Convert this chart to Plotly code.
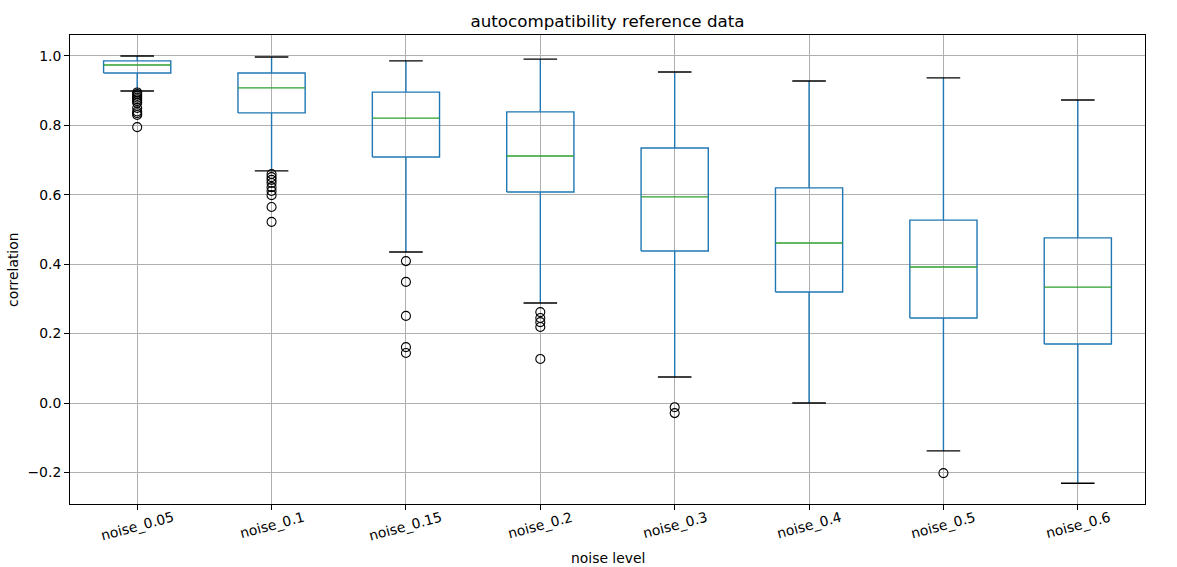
import plotly.graph_objects as go

categories = ["noise_0.05", "noise_0.1", "noise_0.15", "noise_0.2",
              "noise_0.3", "noise_0.4", "noise_0.5", "noise_0.6"]
lower_whisker = [0.899, 0.669, 0.435, 0.288, 0.075, 0.000, -0.138, -0.231]
q1 = [0.951, 0.836, 0.709, 0.608, 0.438, 0.320, 0.245, 0.170]
median = [0.974, 0.908, 0.821, 0.712, 0.594, 0.461, 0.392, 0.334]
q3 = [0.986, 0.951, 0.896, 0.839, 0.735, 0.620, 0.527, 0.476]
upper_whisker = [1.000, 0.997, 0.986, 0.991, 0.954, 0.928, 0.937, 0.873]
outliers = [
    [0.895, 0.89, 0.885, 0.88, 0.875, 0.87, 0.865, 0.85, 0.84, 0.835, 0.83, 0.795],
    [0.66, 0.651, 0.643, 0.634, 0.622, 0.611, 0.599, 0.565, 0.522],
    [0.409, 0.349, 0.251, 0.161, 0.144],
    [0.262, 0.245, 0.233, 0.219, 0.127],
    [-0.012, -0.029],
    [],
    [-0.202],
    [],
]
y_ticks = [-0.2, 0.0, 0.2, 0.4, 0.6, 0.8, 1.0]
y_ticklabels = ["\u22120.2", "0.0", "0.2", "0.4", "0.6", "0.8", "1.0"]

W, H = 1177, 567
L, R, T, B = 70, 32, 35, 63
plot_h = H - T - B

pos = list(range(1, len(categories) + 1))
bw = 0.25  # half box width
cw = 0.125  # half cap width

box_x, box_y = [], []
med_x, med_y = [], []
wh_x, wh_y = [], []
cap_x, cap_y = [], []
out_x, out_y = [], []
for i, p in enumerate(pos):
    box_x += [p - bw, p + bw, p + bw, p - bw, p - bw, None]
    box_y += [q1[i], q1[i], q3[i], q3[i], q1[i], None]
    med_x += [p - bw, p + bw, None]
    med_y += [median[i], median[i], None]
    wh_x += [p, p, None, p, p, None]
    wh_y += [q1[i], lower_whisker[i], None, q3[i], upper_whisker[i], None]
    cap_x += [p - cw, p + cw, None, p - cw, p + cw, None]
    cap_y += [lower_whisker[i], lower_whisker[i], None, upper_whisker[i], upper_whisker[i], None]
    for v in outliers[i]:
        out_x.append(p)
        out_y.append(v)

fig = go.Figure()
fig.add_trace(go.Scatter(x=wh_x, y=wh_y, mode="lines",
                         line=dict(color="#1f77b4", width=1.4), hoverinfo="skip"))
fig.add_trace(go.Scatter(x=box_x, y=box_y, mode="lines",
                         line=dict(color="#1f77b4", width=1.4), hoverinfo="skip"))
fig.add_trace(go.Scatter(x=med_x, y=med_y, mode="lines",
                         line=dict(color="#2ca02c", width=1.4), hoverinfo="skip"))
fig.add_trace(go.Scatter(x=cap_x, y=cap_y, mode="lines",
                         line=dict(color="black", width=1.4), hoverinfo="skip"))
fig.add_trace(go.Scatter(x=out_x, y=out_y, mode="markers",
                         marker=dict(symbol="circle-open", size=9, color="black",
                                     line=dict(width=1.1, color="black"))))

axis_common = dict(showline=True, linecolor="black", linewidth=1, mirror=True,
                   showgrid=True, gridcolor="#b0b0b0", gridwidth=1,
                   ticks="outside", ticklen=5, tickcolor="black",
                   tickfont=dict(size=13.9, color="black"), zeroline=False,
                   automargin=False)


def py(px):
    """pixel row (from top of figure) -> paper y"""
    return (T + plot_h - px) / plot_h


annotations = []
for p, name in zip(pos, categories):
    annotations.append(dict(x=p, xref="x", y=py(506), yref="paper", text=name,
                            showarrow=False, textangle=-15,
                            xanchor="center", yanchor="top",
                            font=dict(size=13.9, color="black")))
annotations.append(dict(x=0.5, xref="paper", y=py(558), yref="paper",
                        text="noise level", showarrow=False, xanchor="center",
                        yanchor="middle", font=dict(size=13.9, color="black")))
annotations.append(dict(x=(13 - L) / (W - L - R), xref="paper", y=py(270),
                        yref="paper", text="correlation", showarrow=False, textangle=-90,
                        xanchor="center", yanchor="middle",
                        font=dict(size=13.9, color="black")))

fig.update_layout(
    width=W, height=H,
    margin=dict(l=L, r=R, t=T, b=B),
    paper_bgcolor="white", plot_bgcolor="white",
    font=dict(family="DejaVu Sans", color="black"),
    showlegend=False,
    hovermode=False,
    title=dict(text="autocompatibility reference data", x=0.5 + (L - R) / 2 / W,
               xanchor="center", y=1 - 21 / H, yanchor="middle",
               font=dict(size=16.7, color="black")),
    xaxis=dict(range=[0.5, 8.5], tickmode="array", tickvals=pos,
               showticklabels=False, **axis_common),
    yaxis=dict(range=[-0.291, 1.0605], tickmode="array",
               tickvals=y_ticks, ticktext=y_ticklabels, **axis_common),
    annotations=annotations,
)

fig.write_html("out.html", config={"displayModeBar": False},
               post_script="document.body.style.margin='0';document.body.style.overflow='hidden';")
